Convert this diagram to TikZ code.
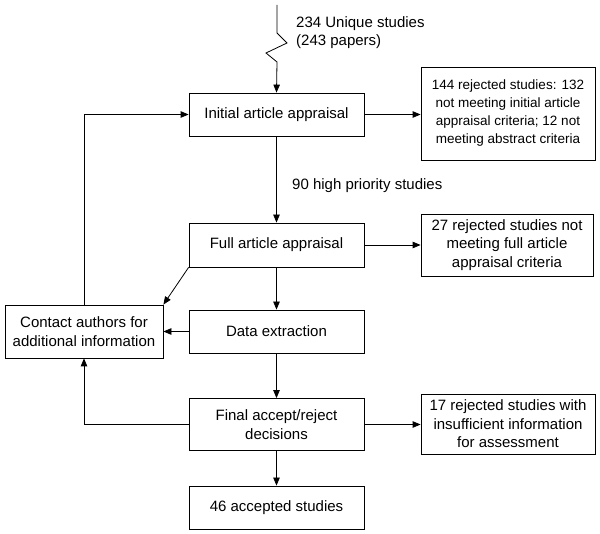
\documentclass[tikz,border=0pt]{standalone}
\usepackage{fontspec}
\setmainfont{Liberation Sans}
\usetikzlibrary{arrows.meta}

\tikzset{
  stageBox/.style={draw, line width=0.8pt, minimum width=175pt, minimum height=43pt, inner sep=2pt, align=center},
  rejectBox/.style={draw, line width=0.8pt, minimum width=174pt, inner sep=2pt, align=center},
  flowLine/.style={->, line width=0.8pt}
}

\begin{document}
\begin{tikzpicture}[>={Triangle[length=8pt,width=6.5pt]},x=1pt,y=-1pt,font=\fontsize{15}{18.5}\selectfont]
    \useasboundingbox (0,0) rectangle (600,534);

    \node[stageBox] (initialNode) at (276.5,114.5) {Initial article appraisal};
    \node[stageBox, minimum height=44pt] (fullNode) at (276.5,245) {Full article appraisal};
    \node[stageBox] (dataNode) at (276.5,331.5) {Data extraction};
    \node[stageBox, minimum height=52pt] (finalNode) at (276.5,424.5) {Final accept/reject\\decisions};
    \node[stageBox] (acceptedNode) at (276.5,507.5) {46 accepted studies};

    \node[stageBox, minimum width=158pt, minimum height=53pt] (contactNode) at (84,331.5) {Contact authors for\\additional information};

    \node[rejectBox, minimum height=93pt, font=\fontsize{13.5}{18}\selectfont] (rejectInitialNode) at (508,113.5) {144 rejected studies: 132\\not meeting initial article\\appraisal criteria; 12 not\\meeting abstract criteria};
    \node[rejectBox, minimum width=172pt, minimum height=62pt] (rejectFullNode) at (507,245) {27 rejected studies not\\meeting full article\\appraisal criteria};
    \node[rejectBox, minimum height=60pt] (rejectFinalNode) at (508,424) {17 rejected studies with\\insufficient information\\for assessment};

    % incoming studies
    \coordinate (sourceNode) at (277,5);
    \node[anchor=north west, align=left, inner sep=0pt] (sourceLabel) at (296,16) {234 Unique studies\\(243 papers)};
    \draw[flowLine] (sourceNode) -- (277,33) -- (287,43) -- (266,53) -- (277,62) -- (initialNode.north);

    % main flow
    \draw[flowLine] (initialNode) -- (fullNode) node[right=12pt, pos=0.57]{90 high priority studies};
    \draw[flowLine] (fullNode) -- (dataNode);
    \draw[flowLine] (dataNode) -- (finalNode);
    \draw[flowLine] (finalNode) -- (acceptedNode);

    % rejections
    \draw[flowLine] (initialNode.east) -- (rejectInitialNode.west |- initialNode.east);
    \draw[flowLine] (fullNode.east) -- (rejectFullNode.west |- fullNode.east);
    \draw[flowLine] (finalNode.east) -- (rejectFinalNode.west |- finalNode.east);

    % contact authors loop
    \draw[flowLine] (fullNode.south west) -- (contactNode.north east);
    \draw[flowLine] (dataNode.west) -- (contactNode.east |- dataNode.west);
    \draw[flowLine] (contactNode.north) -- (contactNode.north |- initialNode.west) -- (initialNode.west);
    \draw[flowLine] (finalNode.west) -- (contactNode.south |- finalNode.west) -- (contactNode.south);

\end{tikzpicture}
\end{document}
